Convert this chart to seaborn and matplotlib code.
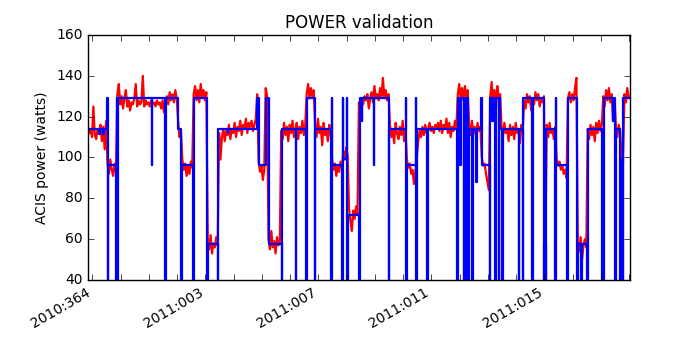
import numpy as np
import pandas as pd
import matplotlib
matplotlib.use("Agg")
import matplotlib.pyplot as plt
import seaborn as sns

# x axis is in days since 2010:364
tick_days = [0, 4, 8, 12, 16]
tick_labels = ["2010:364", "2011:003", "2011:007", "2011:011", "2011:015"]

# ACIS power telemetry, one sample every 0.05 day
tlm_t0 = -0.117
tlm_dt = 0.05
tlm_power = [
    112, 114, 110, 125, 111, 109, 114, 112, 116, 108, 115, 104, 118,
    97, 92, 99, 94, 91, 97, 93,
    131, 136, 126, 130, 124, 129, 133, 125, 128, 123, 127, 126, 129, 136, 125,
    128, 126, 127, 140, 125, 128, 126, 127, 125, 128, 126, 127, 125, 128, 126,
    127, 124, 128, 122, 127, 130, 126, 132, 128, 131, 127, 133, 129,
    118, 110, 113,
    99, 94, 97, 91, 96, 92, 98, 95,
    131, 135, 128, 133, 127, 136, 130, 133, 128, 132,
    60, 55, 62, 53, 58, 56, 61, 57,
    112, 99, 110, 114, 108, 113, 111, 116, 109, 114, 112, 117, 110, 115, 113,
    118, 111, 116, 114, 119, 112, 117, 115, 118, 113, 116, 119,
    131,
    98, 93, 96, 89, 94,
    134, 130,
    60, 55, 64, 56, 59, 53, 61, 57, 58,
    113, 109, 117, 111, 115, 108, 116, 112, 118, 110, 114, 117, 109, 115, 112,
    118, 111, 116,
    131, 136, 129, 134, 130, 133,
    116, 110, 119, 112, 115, 106, 117, 111, 114, 108, 116, 113,
    99, 94, 97, 91, 96, 93, 98, 95,
    103, 99, 105, 101,
    75, 69, 64, 74, 70, 76, 72,
    127, 122, 129, 126, 130, 128, 131, 124, 129, 132, 127, 135, 129, 131, 128,
    134, 130, 139, 129, 133, 128, 131,
    116, 110, 114, 107, 117, 112, 109, 115, 111, 118, 108, 114,
    99, 95, 97, 92, 94, 87, 93,
    100, 108, 113, 110, 115, 111, 116, 112, 114, 117, 113, 115, 112, 116, 114,
    117, 113, 118, 112, 116, 114, 119, 112, 117, 110, 115, 113, 118, 114,
    131, 136, 129, 134, 128, 135, 130, 133,
    116, 111, 118, 112, 115, 110, 117, 113, 115,
    100, 96, 97, 92, 88, 84,
    130, 137, 127, 133, 124, 135, 129, 131,
    115, 110, 117, 112, 114, 108, 116, 111, 115, 109, 117, 112, 114, 107, 116, 113,
    128, 124, 131, 127, 130, 123, 129, 126, 132, 128, 131, 125, 129, 127, 130,
    56,
    116, 110, 117, 112, 114, 109, 115,
    99, 96, 98, 94, 96, 92, 94, 90,
    129, 132, 127, 131, 128, 134, 139,
    59, 54, 61, 50, 57, 60, 56,
    114, 109, 116, 111, 115, 108, 117, 112, 118, 113, 116,
    130, 125, 133, 128, 134, 127, 131, 118, 129,
    115, 110, 116, 112,
    101, 98,
    131, 127, 134, 130,
]

# thermal model power (step changes), 0 where the model drops out
model_time = [
    -0.117, 0.247, 0.265, 0.389, 0.406, 0.509, 0.537, 0.565, 0.837, 0.866,
    0.883, 0.915, 2.092, 2.110, 2.569, 2.590, 3.018, 3.152, 3.170, 3.558,
    3.580, 4.053, 4.074, 4.431, 4.449, 4.784, 4.802, 5.820, 5.880, 6.138,
    6.233, 6.693, 6.710, 7.198, 7.219, 7.576, 7.594, 7.869, 7.890, 8.459,
    8.477, 8.498, 8.848, 8.866, 8.887, 9.000, 9.021, 9.042, 9.435, 9.456,
    9.530, 9.548, 9.965, 9.982, 10.495, 10.516, 11.085, 11.106, 11.134, 11.438,
    11.459, 11.495, 11.852, 11.873, 12.912, 12.933, 13.028, 13.046, 13.145, 13.170,
    13.240, 13.261, 13.300, 13.322, 13.442, 13.463, 13.583, 13.601, 13.760, 13.784,
    14.064, 14.088, 14.148, 14.166, 14.265, 14.286, 14.382, 14.406, 14.442, 14.502,
    14.523, 15.088, 15.110, 15.230, 15.254, 15.562, 15.583, 15.972, 15.996, 16.042,
    16.067, 16.385, 16.406, 16.428, 16.799, 16.820, 17.152, 17.173, 17.293, 17.314,
    17.505, 17.527, 18.035, 18.092, 18.424, 18.442, 18.505, 18.527, 18.682, 18.703,
    18.777, 18.799, 19.02,
]
model_power = [
    114, 111.5, 114, 111.5, 114, 129, 0, 96.5, 0, 129,
    0, 129, 96.5, 129, 0, 129, 114, 0, 96.5, 0,
    129, 0, 57.5, 0, 114, 112, 114, 129, 96.5, 129,
    57.5, 0, 114, 0, 114, 0, 129, 0, 114, 0,
    129, 96.5, 0, 129, 99.5, 129, 0, 72, 0, 129,
    118, 129, 96.5, 129, 0, 114, 129, 0, 96.5, 129,
    0, 114, 0, 114, 0, 129, 96.5, 129, 0, 129,
    0, 129, 0, 114, 0, 114, 88, 114, 129, 96.5,
    0, 129, 118, 129, 0, 129, 0, 129, 114, 0,
    114, 0, 114, 0, 129, 0, 129, 0, 57.5, 0,
    114, 0, 129, 96.5, 0, 129, 0, 57.5, 0, 57.5,
    0, 114, 0, 129, 118, 129, 0, 114, 0, 99.5,
    0, 129, 129,
]

plt.style.use("classic")
plt.rcParams["font.family"] = ["DejaVu Sans"]

tlm = pd.DataFrame({
    "time": tlm_t0 + tlm_dt * np.arange(len(tlm_power)),
    "power": tlm_power,
})
model = pd.DataFrame({"time": model_time, "power": model_power})

fig, ax = plt.subplots(figsize=(7, 3.5), dpi=100, facecolor="white")
sns.lineplot(data=tlm, x="time", y="power", color="red", linewidth=1.6,
             estimator=None, sort=False, ax=ax)
sns.lineplot(data=model, x="time", y="power", color="blue", linewidth=1.6,
             estimator=None, sort=False, drawstyle="steps-post", ax=ax)

ax.set_xlim(-0.15, 19.03)
ax.set_ylim(40, 160)
ax.set_yticks(range(40, 161, 20))
ax.set_xticks(range(0, 20))
ax.set_xticklabels([tick_labels[tick_days.index(d)] if d in tick_days else ""
                    for d in range(0, 20)])
ax.set_xlabel("")
ax.set_ylabel("ACIS power (watts)", fontsize=10)
ax.set_title("POWER validation", fontsize=12)
ax.tick_params(labelsize=10)
fig.autofmt_xdate()
fig.subplots_adjust(left=0.126, right=0.9, top=0.9, bottom=0.2)

fig.savefig("out.png", dpi=100, facecolor="white")
